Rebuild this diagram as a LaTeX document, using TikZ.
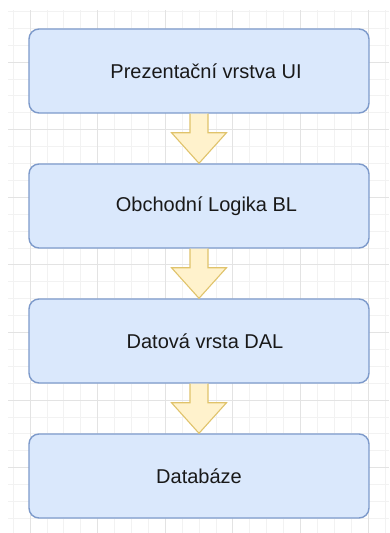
\documentclass[tikz,border=0pt]{standalone}
\usepackage{fontspec}
\setmainfont{Liberation Sans}
\definecolor{boxfill}{HTML}{DAE8FC}
\definecolor{boxline}{HTML}{7D9ACB}
\definecolor{arrfill}{HTML}{FFF2CC}
\definecolor{arrline}{HTML}{E0C36B}
\definecolor{gridminor}{HTML}{F2F2F2}
\definecolor{gridmajor}{HTML}{E3E3E3}
\begin{document}
\begin{tikzpicture}[x=1pt,y=-1pt,
  layerbox/.style={draw=boxline, fill=boxfill, line width=1.4pt, rounded corners=10pt,
    minimum width=340pt, minimum height=84pt, inner sep=0pt,
    font=\fontsize{20}{24}\selectfont, text=black!90},
  flowarrow/.style={draw=arrline, fill=arrfill, line width=1.1pt, line join=miter}]
\useasboundingbox (0,0) rectangle (389,533);
\fill[white] (0,0) rectangle (389,533);
% grid
\begin{scope}
\clip (8,10) rectangle (389,533);
\foreach \i in {-1,...,22} {
  \draw[gridminor, line width=0.8pt] (30+\i*16.9,10) -- (30+\i*16.9,533);
}
\foreach \i in {-4,...,28} {
  \draw[gridminor, line width=0.8pt] (8,62+\i*16.9) -- (389,62+\i*16.9);
}
\foreach \i in {0,...,5} {
  \draw[gridmajor, line width=0.9pt] (30+\i*67.6,10) -- (30+\i*67.6,533);
}
\foreach \i in {-1,...,7} {
  \draw[gridmajor, line width=0.9pt] (8,62+\i*67.6) -- (389,62+\i*67.6);
}
\end{scope}
% boxes
\node[layerbox] (ui)  at (199,71)  {\hspace*{14pt}Prezentační vrstva UI};
\node[layerbox] (bl)  at (199,206) {\hspace*{15pt}Obchodní Logika BL};
\node[layerbox] (dal) at (199,341) {\hspace*{12pt}Datová vrsta DAL};
\node[layerbox] (db)  at (199,476) {Databáze};
% arrows
\foreach \a/\b in {ui/bl, bl/dal, dal/db} {
  \draw[flowarrow]
    ([xshift=-9pt]\a.south) -- ([xshift=-9pt,yshift=-19pt]\a.south)
    -- ([xshift=-27.5pt,yshift=-19pt]\a.south) -- (\b.north)
    -- ([xshift=27.5pt,yshift=-19pt]\a.south) -- ([xshift=9pt,yshift=-19pt]\a.south)
    -- ([xshift=9pt]\a.south);
}
\end{tikzpicture}
\end{document}
